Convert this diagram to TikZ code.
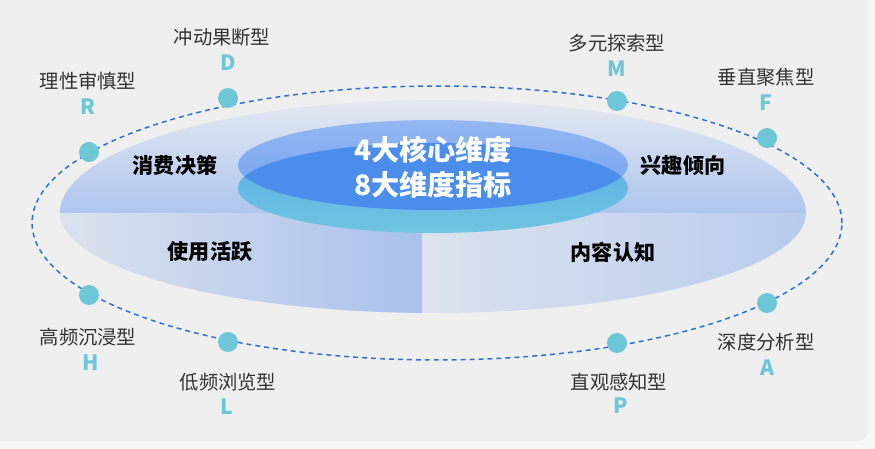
\documentclass[tikz,border=0pt]{standalone}
\usepackage{fontspec}
\setmainfont{Noto Sans CJK SC}
\usepackage{xcolor}
\definecolor{bgpanel}{HTML}{EFEFEF}
\definecolor{bgstrip}{HTML}{F7F7F7}
\definecolor{disktop}{HTML}{E4E9F2}
\definecolor{diskmid}{HTML}{AEC5EE}
\definecolor{quadlight}{HTML}{DCE2EE}
\definecolor{quadblue}{HTML}{A8C0EC}
\definecolor{quadsoft}{HTML}{B9CCEE}
\definecolor{coretop}{HTML}{95B7F3}
\definecolor{corebottom}{HTML}{6E9FEF}
\definecolor{basetop}{HTML}{58ACE6}
\definecolor{basebottom}{HTML}{70C5E1}
\definecolor{overlap}{HTML}{4A8DEA}
\definecolor{orbitblue}{HTML}{2E6FD6}
\definecolor{dotcyan}{HTML}{6EC6D9}
\definecolor{textgray}{HTML}{333333}

\tikzset{
  typedot/.style={circle, fill=dotcyan, minimum size=0.4cm, inner sep=0},
  typename/.style={text=textgray, font=\fontsize{11}{13}\selectfont, inner sep=1pt},
  typeletter/.style={text=dotcyan, font=\fontsize{12}{14}\selectfont\bfseries, inner sep=1pt},
  quadlabel/.style={text=black, font=\fontsize{12}{14}\selectfont\bfseries, inner sep=1pt}
}

\begin{document}
\begin{tikzpicture}[x=0.02cm, y=-0.02cm]
    \useasboundingbox (0,0) rectangle (875,449);
    \fill[bgstrip] (0,0) rectangle (875,449);
    \fill[bgpanel, rounded corners=6pt] (-20,-20) rectangle (868,441);

    % big disk, upper half
    \shade[top color=disktop, bottom color=diskmid]
        (60,213) arc [start angle=180, end angle=0, x radius=7.46cm, y radius=2.26cm] -- cycle;
    % lower quadrants
    \begin{scope}
        \clip (0,213) rectangle (422,449);
        \shade[left color=quadlight, right color=quadblue]
            (60,213) arc [start angle=180, end angle=270, x radius=7.46cm, y radius=2cm] -- (433,213) -- cycle;
    \end{scope}
    \shade[left color=quadlight, right color=quadsoft]
        (806,213) arc [start angle=0, end angle=-90, x radius=7.46cm, y radius=2cm] -- (422,313) -- (422,213) -- cycle;

    % core ellipses
    \shade[top color=basetop, bottom color=basebottom] (433,188) ellipse [x radius=3.9cm, y radius=0.9cm];
    \shade[top color=coretop, bottom color=corebottom] (433,165) ellipse [x radius=3.9cm, y radius=0.9cm];
    \begin{scope}
        \clip (433,188) ellipse [x radius=3.9cm, y radius=0.9cm];
        \fill[overlap] (433,165) ellipse [x radius=3.9cm, y radius=0.9cm];
    \end{scope}
    \node[text=white, align=center, font=\fontsize{16}{20}\selectfont\bfseries] (core) at (433,167) {4大核心维度\\8大维度指标};

    % quadrant labels
    \node[quadlabel] (decision) at (175,165) {消费决策};
    \node[quadlabel] (interest) at (683,165) {兴趣倾向};
    \node[quadlabel] (activity) at (210,252) {使用活跃};
    \node[quadlabel] (cognition) at (613,252) {内容认知};

    % orbit
    \draw[orbitblue, line width=0.85pt, dash pattern=on 2.8pt off 2.3pt]
        (437,223) ellipse [x radius=8.1cm, y radius=2.74cm];

    % user types
    \node[typedot] (dotD) at (228,98) {};
    \node[typedot] (dotR) at (89,152) {};
    \node[typedot] (dotM) at (617,101) {};
    \node[typedot] (dotF) at (767,138) {};
    \node[typedot] (dotH) at (89,295) {};
    \node[typedot] (dotL) at (228,342) {};
    \node[typedot] (dotP) at (617,343) {};
    \node[typedot] (dotA) at (767,303) {};

    \node[typename] (nameD) at (222,37) {冲动果断型};
    \node[typeletter] (letterD) at (228,63) {D};
    \node[typename] (nameR) at (88,81) {理性审慎型};
    \node[typeletter] (letterR) at (88,107) {R};
    \node[typename] (nameM) at (617,43) {多元探索型};
    \node[typeletter] (letterM) at (617,69) {M};
    \node[typename] (nameF) at (766,77) {垂直聚焦型};
    \node[typeletter] (letterF) at (766,103) {F};
    \node[typename] (nameH) at (88,337) {高频沉浸型};
    \node[typeletter] (letterH) at (91,363) {H};
    \node[typename] (nameL) at (228,382) {低频浏览型};
    \node[typeletter] (letterL) at (227,407) {L};
    \node[typename] (nameP) at (619,382) {直观感知型};
    \node[typeletter] (letterP) at (621,406) {P};
    \node[typename] (nameA) at (766,342) {深度分析型};
    \node[typeletter] (letterA) at (767,368) {A};
\end{tikzpicture}
\end{document}
